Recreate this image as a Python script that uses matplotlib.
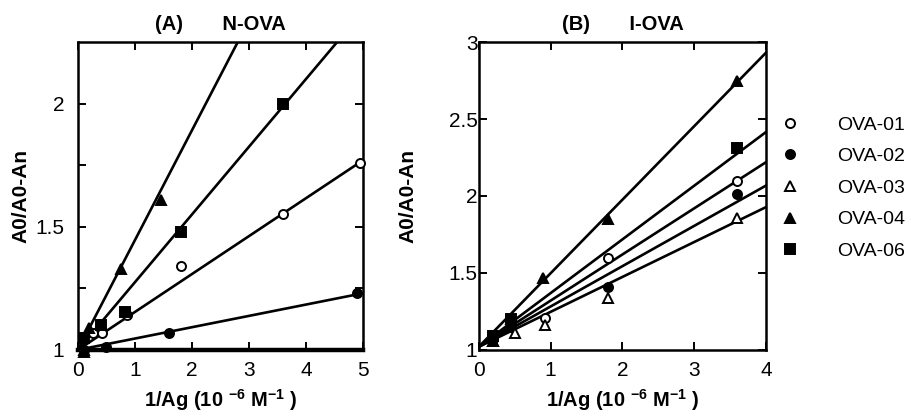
import numpy as np
import matplotlib.pyplot as plt
from matplotlib.lines import Line2D

plt.rcParams['font.family'] = ['Liberation Sans', 'DejaVu Sans']
plt.rcParams['mathtext.fontset'] = 'custom'
plt.rcParams['mathtext.rm'] = 'Liberation Sans:bold'
plt.rcParams['mathtext.bf'] = 'Liberation Sans:bold'

series = ['OVA-01', 'OVA-02', 'OVA-03', 'OVA-04', 'OVA-06']

# (A) N-OVA, points
a01_x = [0.26, 0.42, 0.86, 1.8, 3.6, 4.95]
a01_y = [1.07, 1.07, 1.14, 1.34, 1.55, 1.76]
a02_x = [0.1, 0.5, 1.6, 4.9]
a02_y = [1.0, 1.01, 1.07, 1.23]
a03_x = [0.1]
a03_y = [1.0]
a04_x = [0.1, 0.2, 0.75, 1.45]
a04_y = [0.99, 1.09, 1.33, 1.61]
a06_x = [0.1, 0.4, 0.82, 1.8, 3.6]
a06_y = [1.05, 1.1, 1.155, 1.48, 2.0]
a_icpt = [1.0, 1.0, 1.0, 1.0, 1.0]
a_slope = [0.154, 0.046, 0.0, 0.446, 0.275]

# (B) I-OVA
b01_x = [0.2, 0.45, 0.92, 1.8, 3.6]
b01_y = [1.08, 1.18, 1.21, 1.6, 2.1]
b02_x = [0.2, 0.45, 1.8, 3.6]
b02_y = [1.07, 1.15, 1.41, 2.01]
b03_x = [0.2, 0.5, 0.92, 1.8, 3.6]
b03_y = [1.06, 1.11, 1.16, 1.34, 1.86]
b04_x = [0.2, 0.45, 0.9, 1.8, 3.6]
b04_y = [1.06, 1.2, 1.47, 1.85, 2.75]
b06_x = [0.2, 0.45, 3.6]
b06_y = [1.09, 1.2, 2.31]
b_icpt = [1.02, 1.02, 1.02, 1.02, 1.02]
b_slope = [0.30, 0.262, 0.227, 0.478, 0.349]

styles = [
    dict(marker='o', mfc='white', ms=6.5),
    dict(marker='o', mfc='black', ms=6.5),
    dict(marker='^', mfc='white', ms=7),
    dict(marker='^', mfc='black', ms=7),
    dict(marker='s', mfc='black', ms=6.5),
]


def panel(ax, pts, icpt, slope, xmax, ymax):
    xs = np.array([0, xmax])
    for i in range(len(series)):
        ax.plot(xs, icpt[i] + slope[i] * xs, color='black', lw=1.9, zorder=2)
        px, py = pts[i]
        ax.plot(px, py, ls='none', mec='black', mew=1.4, color='black',
                clip_on=False, zorder=3, **styles[i])
    ax.set_xlim(0, xmax)
    ax.set_ylim(1, ymax)
    for s in ax.spines.values():
        s.set_linewidth(1.8)
    ax.tick_params(direction='in', top=True, right=True, length=6, width=1.4,
                   labelsize=15)


fig = plt.figure(figsize=(9.12, 4.17), dpi=100)
axA = fig.add_axes([0.0855, 0.161, 0.3125, 0.738])
axB = fig.add_axes([0.525, 0.161, 0.315, 0.738])

panel(axA, [(a01_x, a01_y), (a02_x, a02_y), (a03_x, a03_y), (a04_x, a04_y), (a06_x, a06_y)],
      a_icpt, a_slope, 5, 2.25)
axA.set_xticks([0, 1, 2, 3, 4, 5])
axA.set_yticks([1, 1.25, 1.5, 1.75, 2])
axA.set_yticklabels(['1', '', '1.5', '', '2'])
axA.tick_params(axis='y', pad=10)
axA.tick_params(axis='x', pad=8)
axA.spines['bottom'].set_linewidth(3.2)

panel(axB, [(b01_x, b01_y), (b02_x, b02_y), (b03_x, b03_y), (b04_x, b04_y), (b06_x, b06_y)],
      b_icpt, b_slope, 4, 3)
axB.set_xticks([0, 1, 2, 3, 4])
axB.set_yticks([1, 1.5, 2, 2.5, 3])
axB.set_yticklabels(['1', '1.5', '2', '2.5', '3'])
axB.tick_params(axis='y', pad=1)
axB.tick_params(axis='x', pad=8)

xlab = r'1/Ag (10 $^{-6}$ M$^{-1}$ )'
for ax, t in [(axA, '(A)       N-OVA'), (axB, '(B)       I-OVA')]:
    ax.set_title(t, fontsize=14.5, fontweight='bold', pad=9)
    ax.set_xlabel(xlab, fontsize=14.5, fontweight='bold', labelpad=5)
    ax.set_ylabel('A0/A0-An', fontsize=15, fontweight='bold')
axA.yaxis.set_label_coords(-0.165, 0.5)
axB.yaxis.set_label_coords(-0.213, 0.5)

handles = [Line2D([], [], ls='none', mec='black', mew=1.4, color='black', **st)
           for st in styles]
fig.legend(handles, series, loc='upper left', bbox_to_anchor=(0.856, 0.722),
           frameon=False, fontsize=14, handlelength=1.0, handletextpad=1.9,
           labelspacing=0.72, borderpad=0, borderaxespad=0)

fig.savefig('out.png', dpi=100)
